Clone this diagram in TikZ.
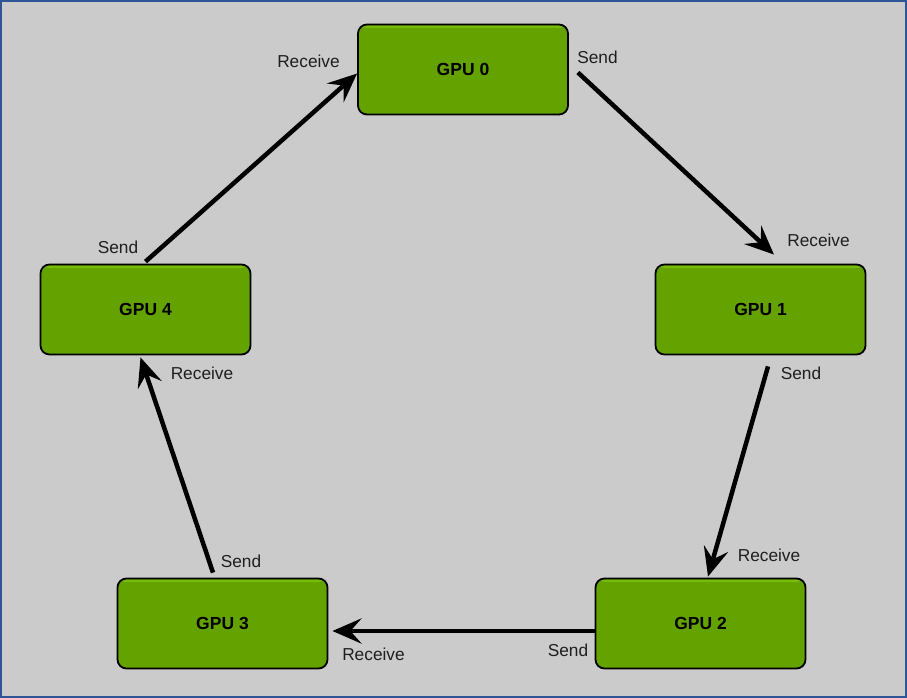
\documentclass[tikz,border=0pt]{standalone}
\usepackage{fontspec}
\setmainfont{Liberation Sans}
\usetikzlibrary{arrows.meta,calc}
\definecolor{bg}{HTML}{CBCBCB}
\definecolor{frame}{HTML}{2F5597}
\definecolor{gpugreen}{HTML}{64A200}
\definecolor{gpulight}{HTML}{78BC0A}
\tikzset{
  gpu/.style={draw=black, line width=1.8pt, rounded corners=9pt, fill=gpugreen,
    minimum width=210pt, minimum height=90pt, inner sep=0pt,
    font=\fontsize{17.5}{20}\selectfont\bfseries,
    path picture={\fill[gpulight] ([yshift=-1pt]path picture bounding box.north west) rectangle ([yshift=-3.5pt]path picture bounding box.north east);}},
  lbl/.style={font=\fontsize{17.3}{20}\selectfont, inner sep=0pt, text=black!88},
  ring/.style={line width=4.5pt, -{Stealth[length=29pt,width=25pt,inset=11pt]}}
}
\begin{document}
\begin{tikzpicture}[x=1pt,y=-1pt]
\useasboundingbox (0,0) rectangle (907,698);
\fill[bg] (0,0) rectangle (907,698);
\draw[frame, line width=2.2pt] (1.1,1.1) rectangle (905.9,696.9);

\node[gpu] (g0) at (463,69.5) {GPU 0};
\node[gpu] (g1) at (760.5,309.5) {GPU 1};
\node[gpu] (g2) at (700.5,623.5) {GPU 2};
\node[gpu] (g3) at (222.5,623.5) {GPU 3};
\node[gpu] (g4) at (145.5,309.5) {GPU 4};

\draw[ring] ($(g0.east)+(9,3)$) -- ($(g1.north)+(13.5,-9)$);
\draw[ring] ($(g1.south)+(7.5,11)$) -- ($(g2.north)+(7.5,-1)$);
\draw[ring] ($(g2.west)+(0,7.5)$) -- ($(g3.east)+(4,7.5)$);
\draw[ring] ($(g3.north)+(-9.5,-5)$) -- ($(g4.south)+(-5,2)$);
\draw[ring] ($(g4.north)+(0,-2)$) -- ($(g0.west)+(0,4)$);

\node[lbl] (r0) at (308.5,61) {Receive};
\node[lbl] (s0) at (597.5,57) {Send};
\node[lbl] (r1) at (818.5,240) {Receive};
\node[lbl] (s1) at (801,373) {Send};
\node[lbl] (r2) at (769,555) {Receive};
\node[lbl] (s2) at (568,650) {Send};
\node[lbl] (r3) at (373.5,654) {Receive};
\node[lbl] (s3) at (241,561) {Send};
\node[lbl] (r4) at (202,373) {Receive};
\node[lbl] (s4) at (118,247) {Send};
\end{tikzpicture}
\end{document}
